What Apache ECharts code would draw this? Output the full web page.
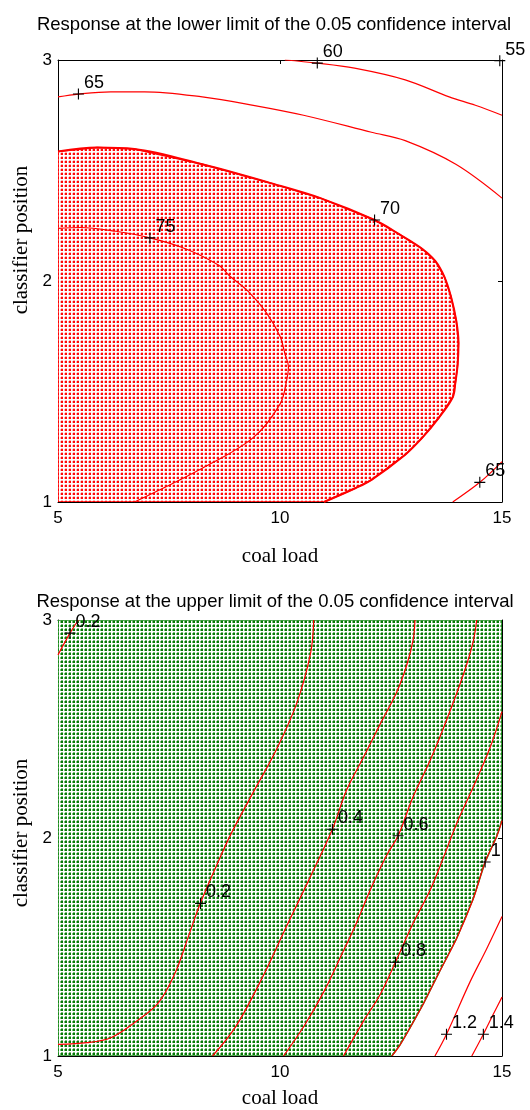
<!DOCTYPE html>
<html>
<head>
<meta charset="utf-8">
<script src="https://cdn.jsdelivr.net/npm/echarts@6/dist/echarts.min.js"></script>
<style>
  html, body { margin: 0; padding: 0; background: #ffffff; }
  #chart { width: 530px; height: 1110px; }
</style>
</head>
<body>
<div id="chart"></div>
<script>
// Axis ranges and ticks shared by both panels
const xRange = [5, 15];
const yRange = [1, 3];
const xTickStep = 5;
const yTickStep = 1;

// Panel titles and axis names
const titleLower = 'Response at the lower limit of the 0.05 confidence interval';
const titleUpper = 'Response at the upper limit of the 0.05 confidence interval';
const xName = 'coal load';
const yName = 'classifier position';

// Lower-limit response: contour lines [coal load, classifier position]
const lowerC60 = [[10.11, 3.0], [10.84, 2.986], [11.68, 2.963], [12.82, 2.91], [13.81, 2.833], [14.4, 2.795], [15, 2.75]];
const lowerC65a = [[5, 2.833], [5.46, 2.846], [6.19, 2.856], [6.95, 2.856], [8.25, 2.833], [9.4, 2.795], [10.53, 2.75],
  [12.06, 2.673], [12.82, 2.635], [13.96, 2.528], [15, 2.375]];
const lowerC70 = [[5, 2.586], [5.88, 2.604], [6.72, 2.597], [8.25, 2.528], [9.77, 2.444], [10.91, 2.375], [12.13, 2.276],
  [12.7, 2.21], [13.2, 2.146], [13.5, 2.09], [13.7, 2.02], [13.85, 1.93], [13.97, 1.82], [14.02, 1.72], [14.0, 1.62],
  [13.95, 1.54], [13.89, 1.474], [13.58, 1.382], [13.2, 1.29], [12.82, 1.214], [12.06, 1.1], [11.68, 1.061], [10.99, 1.0]];
const lowerC75 = [[5, 2.238], [5.5, 2.242], [6.3, 2.225], [7.07, 2.195], [7.87, 2.146], [8.63, 2.07], [8.86, 2.024],
  [9.3, 1.95], [9.7, 1.855], [10.0, 1.75], [10.11, 1.672], [10.19, 1.611], [10.15, 1.55], [10.0, 1.443], [9.39, 1.29],
  [8.25, 1.153], [6.72, 1.0]];
const lowerC65b = [[13.89, 1.0], [14.5, 1.089], [15, 1.183]];
// Contour labels: [x, y, level]
const lowerLabels = [[14.95, 2.997, '55'], [10.84, 2.986, '60'], [5.46, 2.846, '65'], [12.13, 2.276, '70'],
  [7.07, 2.195, '75'], [14.5, 1.089, '65']];

// Upper-limit response: contour lines
const upperC02a = [[5.0, 2.84], [5.27, 2.94], [5.46, 3.0]];
const upperC02b = [[5.0, 1.053], [5.66, 1.061], [6.19, 1.084], [6.72, 1.153], [7.26, 1.244], [7.64, 1.382], [7.94, 1.55],
  [8.21, 1.703], [8.63, 1.901], [8.9, 2.02], [9.39, 2.207], [9.92, 2.406], [10.38, 2.62], [10.69, 2.849], [10.76, 3.0]];
const upperC04 = [[8.48, 1.0], [9.01, 1.137], [9.62, 1.367], [10.15, 1.596], [10.69, 1.825], [11.18, 2.04], [11.5, 2.22],
  [11.88, 2.37], [12.25, 2.52], [12.63, 2.67], [12.85, 2.79], [13.0, 2.91], [13.04, 3.0]];
const upperC06 = [[10.08, 1.0], [10.55, 1.14], [11.0, 1.3], [11.4, 1.47], [11.7, 1.6], [12.05, 1.77], [12.4, 1.92],
  [12.66, 2.01], [13.0, 2.19], [13.38, 2.355], [13.75, 2.54], [14.13, 2.75], [14.35, 2.9], [14.43, 3.0]];
const upperC08 = [[11.43, 1.0], [11.88, 1.16], [12.25, 1.28], [12.6, 1.43], [13.0, 1.61], [13.38, 1.76], [13.68, 1.91],
  [13.98, 2.067], [14.35, 2.233], [14.73, 2.414], [15, 2.58]];
const upperC10 = [[12.52, 1.0], [12.7, 1.05], [12.93, 1.13], [13.23, 1.24], [13.6, 1.39], [13.98, 1.54], [14.35, 1.72],
  [14.62, 1.89], [14.88, 2.007], [15, 2.08]];
const upperC12 = [[13.49, 1.0], [13.75, 1.10], [14.28, 1.34], [14.65, 1.49], [15, 1.64]];
const upperC14 = [[14.32, 1.0], [14.58, 1.10], [14.8, 1.19], [15, 1.27]];
const upperLabels = [[5.27, 2.94, '0.2'], [8.21, 1.70, '0.2'], [11.18, 2.04, '0.4'], [12.66, 2.01, '0.6'],
  [12.6, 1.43, '0.8'], [14.62, 1.89, '1'], [13.75, 1.10, '1.2'], [14.58, 1.10, '1.4']];

// Shaded regions: closed outlines built from the contours and the plot corners
const lowerRegion = [[xRange[0], yRange[0]]].concat(lowerC70);
const upperRegion = [[xRange[0], yRange[0]], [xRange[0], yRange[1]], [xRange[1], yRange[1]]]
  .concat(upperC10.slice().reverse());

// Dotted-grid fill tiles: a solid square dot with a soft edge, white gaps between
function makeTile(halo, core) {
  const c = document.createElement('canvas');
  c.width = 4; c.height = 4;
  const g = c.getContext('2d');
  g.fillStyle = '#ffffff'; g.fillRect(0, 0, 4, 4);
  g.fillStyle = halo;
  g.fillRect(1, 0, 2, 1);
  g.fillRect(0, 1, 1, 2);
  g.fillStyle = core; g.fillRect(1, 1, 2, 2);
  return c;
}
const redTile = makeTile('#ffb4b4', '#ff0a0a');
const greenTile = makeTile('#7dbd7d', '#057a05');

const SANS = 'Arial, "Liberation Sans", Helvetica, sans-serif';
const SERIF = '"Times New Roman", "Liberation Serif", serif';
const PLUS = 'path://M-0.5,-5 h1 v4.5 h4.5 v1 h-4.5 v4.5 h-1 v-4.5 h-4.5 v-1 h4.5 z';

function contour(data, grid, width) {
  return {
    type: 'line', xAxisIndex: grid * 2, yAxisIndex: grid * 2, data: data,
    showSymbol: false, smooth: 0.35, clip: true, silent: true, z: 3,
    lineStyle: { color: '#ff0000', width: width || 1.2 }
  };
}
function region(points, grid, tile, stroke) {
  return {
    type: 'custom', coordinateSystem: 'cartesian2d', xAxisIndex: grid * 2, yAxisIndex: grid * 2,
    data: points, clip: true, silent: true, z: 2,
    renderItem: function (params, api) {
      if (params.dataIndex !== 0) return null;
      const pts = points.map(p => api.coord(p));
      return {
        type: 'polygon',
        shape: { points: pts },
        style: { fill: { image: tile, repeat: 'repeat' }, stroke: stroke, lineWidth: 1.5 }
      };
    }
  };
}
function markers(data, grid) {
  return {
    type: 'scatter', xAxisIndex: grid * 2, yAxisIndex: grid * 2, data: data,
    symbol: PLUS, symbolSize: 11, z: 5, silent: true,
    itemStyle: { color: '#000000', opacity: 1 },
    label: {
      show: true, position: 'right', distance: 0, offset: [0, -11],
      formatter: p => p.value[2], color: '#000000', fontSize: 18, fontFamily: SANS,
      textBorderWidth: 0
    }
  };
}
function xAxes(grid, nameGap) {
  return [{
    gridIndex: grid, type: 'value', position: 'bottom', min: xRange[0], max: xRange[1], interval: xTickStep,
    name: xName, nameLocation: 'middle', nameGap: nameGap,
    nameTextStyle: { fontFamily: SERIF, fontSize: 21, color: '#000' },
    axisLine: { show: true, lineStyle: { color: '#000', width: 1 } },
    axisTick: { show: true, inside: true, length: 4, lineStyle: { color: '#000' } },
    axisLabel: { fontFamily: SANS, fontSize: 17, color: '#000', margin: 8 },
    splitLine: { show: false }
  }, {
    gridIndex: grid, type: 'value', position: 'top', min: xRange[0], max: xRange[1], interval: xTickStep,
    axisLine: { show: true, lineStyle: { color: '#000', width: 1 } },
    axisTick: { show: true, inside: true, length: 4, lineStyle: { color: '#000' } },
    axisLabel: { show: false }, splitLine: { show: false }
  }];
}
function yAxes(grid) {
  return [{
    gridIndex: grid, type: 'value', position: 'left', min: yRange[0], max: yRange[1], interval: yTickStep,
    axisLine: { show: true, lineStyle: { color: '#000', width: 1 } },
    axisTick: { show: true, inside: true, length: 4, lineStyle: { color: '#000' } },
    axisLabel: { fontFamily: SANS, fontSize: 17, color: '#000', margin: 6 },
    splitLine: { show: false }
  }, {
    gridIndex: grid, type: 'value', position: 'right', min: yRange[0], max: yRange[1], interval: yTickStep,
    axisLine: { show: true, lineStyle: { color: '#000', width: 1 } },
    axisTick: { show: true, inside: true, length: 4, lineStyle: { color: '#000' } },
    axisLabel: { show: false }, splitLine: { show: false }
  }];
}

const chart = echarts.init(document.getElementById('chart'), null, { renderer: 'canvas' });
chart.setOption({
  backgroundColor: '#ffffff',
  animation: false,
  title: [
    { text: titleLower, left: 269, top: 10, textAlign: 'center',
      textStyle: { fontFamily: SANS, fontSize: 18.5, fontWeight: 'normal', color: '#000' } },
    { text: titleUpper, left: 270, top: 587, textAlign: 'center',
      textStyle: { fontFamily: SANS, fontSize: 18.5, fontWeight: 'normal', color: '#000' } }
  ],
  grid: [
    { left: 58, top: 60, width: 444, height: 442, show: false },
    { left: 58, top: 620, width: 444, height: 442, show: false }
  ],
  xAxis: xAxes(0, 44).concat(xAxes(1, 32)),
  yAxis: yAxes(0).concat(yAxes(1)),
  graphic: [
    { type: 'text', x: 21, y: 240, rotation: Math.PI / 2,
      style: { text: yName, font: '21px ' + SERIF, fill: '#000', align: 'center', verticalAlign: 'middle' } },
    { type: 'text', x: 21, y: 833, rotation: Math.PI / 2,
      style: { text: yName, font: '21px ' + SERIF, fill: '#000', align: 'center', verticalAlign: 'middle' } }
  ],
  series: [
    region(lowerRegion, 0, redTile, '#ff0000'),
    contour(lowerC60, 0),
    contour(lowerC65a, 0),
    contour(lowerC70, 0, 2),
    contour(lowerC75, 0),
    contour(lowerC65b, 0),
    markers(lowerLabels, 0),

    region(upperRegion, 1, greenTile, '#1e8c1e'),
    contour(upperC02a, 1),
    contour(upperC02b, 1),
    contour(upperC04, 1),
    contour(upperC06, 1),
    contour(upperC08, 1),
    contour(upperC10, 1),
    contour(upperC12, 1),
    contour(upperC14, 1),
    markers(upperLabels, 1)
  ]
});
</script>
</body>
</html>
